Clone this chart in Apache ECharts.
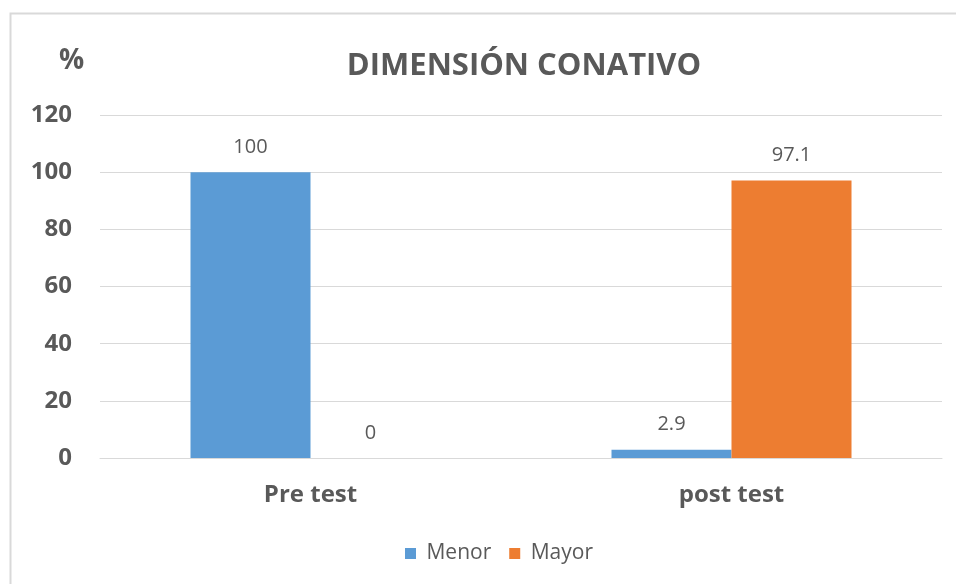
<!DOCTYPE html>
<html>
<head>
<meta charset="utf-8">
<script src="https://cdn.jsdelivr.net/npm/echarts@6/dist/echarts.min.js"></script>
<style>
  html, body { margin: 0; padding: 0; background: #fff; }
  #chart { width: 956px; height: 584px; }
</style>
</head>
<body>
<div id="chart"></div>
<script>
const categories = ['Pre test', 'post test']
const menor = [100, 2.9]
const mayor = [0, 97.1]
const seriesNames = ['Menor', 'Mayor']

const chart = echarts.init(document.getElementById('chart'))
const font = '"Open Sans", "Noto Sans", sans-serif'
const gray = '#595959'

const option = {
  animation: false,
  textStyle: { fontFamily: font },
  graphic: [
    {
      type: 'rect',
      shape: { x: 10.5, y: 13.5, width: 1200, height: 1200 },
      style: { fill: 'none', stroke: '#d9d9d9', lineWidth: 2 }
    },
    {
      type: 'text',
      left: 59,
      top: 47,
      style: { text: '%', fontSize: 28, fontWeight: 'bold', fill: gray, fontFamily: font }
    }
  ],
  title: {
    text: 'DIMENSIÓN CONATIVO',
    left: 519,
    top: 46,
    textAlign: 'center',
    textStyle: { fontSize: 31, fontWeight: 'bold', color: gray, fontFamily: font }
  },
  legend: {
    top: 538,
    left: 400,
    itemWidth: 11,
    itemHeight: 11,
    itemGap: 18,
    icon: 'rect',
    formatter: ' {name}',
    textStyle: { fontSize: 21, color: gray, fontFamily: font },
    data: seriesNames
  },
  grid: { left: 100, right: 14, top: 115, bottom: 126 },
  xAxis: {
    type: 'category',
    data: categories,
    axisLine: { lineStyle: { color: '#d9d9d9', width: 1 } },
    axisTick: { show: false },
    axisLabel: { fontSize: 24, fontWeight: 'bold', color: gray, margin: 25 }
  },
  yAxis: {
    type: 'value',
    min: 0,
    max: 120,
    interval: 20,
    axisLine: { show: false },
    axisTick: { show: false },
    splitLine: { lineStyle: { color: '#d9d9d9', width: 1 } },
    axisLabel: { fontSize: 24, fontWeight: 'bold', color: gray, margin: 28 }
  },
  series: [
    {
      name: seriesNames[0],
      type: 'bar',
      data: menor,
      barWidth: 120,
      barGap: '0%',
      itemStyle: { color: '#5b9bd5' },
      label: { show: true, position: 'top', distance: 15, fontSize: 20, color: gray }
    },
    {
      name: seriesNames[1],
      type: 'bar',
      data: mayor,
      barWidth: 120,
      barGap: '0%',
      itemStyle: { color: '#ed7d31' },
      label: { show: true, position: 'top', distance: 15, fontSize: 20, color: gray }
    }
  ]
}

chart.setOption(option)
</script>
</body>
</html>
